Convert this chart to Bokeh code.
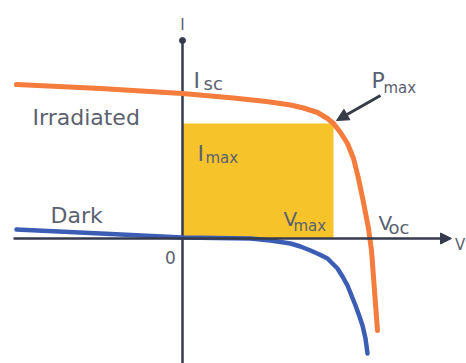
from bokeh.plotting import figure
from bokeh.models import Range1d, Arrow, NormalHead, ColumnDataSource
from bokeh.core.properties import value
from bokeh.embed import file_html
from bokeh.resources import INLINE

# Solar cell I-V characteristics (schematic units)
irr_v = [-1.66, -0.82, 0.00, 0.51, 0.84, 1.08, 1.21, 1.35, 1.45, 1.51, 1.58,
         1.65, 1.71, 1.76, 1.81, 1.86, 1.89, 1.92, 1.95]
irr_i = [1.54, 1.50, 1.45, 1.405, 1.37, 1.335, 1.305, 1.26, 1.20, 1.15, 1.06,
         0.95, 0.80, 0.60, 0.36, 0.10, -0.12, -0.52, -0.92]

dark_v = [-1.66, -0.82, 0.00, 0.68, 0.88, 1.08, 1.18, 1.28, 1.37, 1.45, 1.50,
          1.55, 1.60, 1.65, 1.69, 1.73, 1.77, 1.80, 1.83, 1.85]
dark_i = [0.09, 0.05, 0.01, 0.00, -0.02, -0.05, -0.08, -0.12, -0.16, -0.20,
          -0.25, -0.30, -0.38, -0.47, -0.57, -0.67, -0.78, -0.87, -1.00, -1.15]

# Maximum power point and open-circuit voltage
v_max = 1.51
i_max = 1.15
v_oc = 1.86

TEXT = "#5b6170"
AXIS = "#353a4c"
FONT = "DejaVu Sans"

p = figure(width=466, height=363, output_backend="svg", toolbar_location=None,
           x_range=Range1d(-1.82, 2.84), y_range=Range1d(-1.25, 2.38),
           min_border=0)
p.axis.visible = False
p.grid.visible = False
p.outline_line_color = None
p.background_fill_color = "white"
p.border_fill_color = "white"

# Power rectangle V_max x I_max
p.quad(left=[0], right=[v_max], bottom=[0], top=[i_max],
       fill_color="#f6c42a", line_color=None)

# Axes
p.segment(x0=[0], y0=[1.98], x1=[0], y1=[-1.30], line_color=AXIS, line_width=2.5)
p.scatter(x=[0], y=[1.98], size=6, color=AXIS)
p.add_layout(Arrow(end=NormalHead(size=11, fill_color=AXIS, line_color=AXIS),
                   x_start=-1.69, y_start=0.0, x_end=2.69, y_end=0.0,
                   line_color=AXIS, line_width=2.5))

# Curves
p.line(dark_v, dark_i, line_color="#3b5db3", line_width=4.5, line_cap="round",
       line_join="round")
p.line(irr_v, irr_i, line_color="#f47c3c", line_width=5, line_cap="round",
       line_join="round")

# Pointer to the maximum power point
p.add_layout(Arrow(end=NormalHead(size=12, fill_color="#363b48", line_color="#363b48"),
                   x_start=1.98, y_start=1.43, x_end=v_max + 0.03, y_end=i_max + 0.03,
                   line_color="#363b48", line_width=3))

def label(x, y, text, size, align="left"):
    src = ColumnDataSource(dict(x=[x], y=[y], t=[text]))
    p.text(x="x", y="y", text="t", source=src, text_font=value(FONT),
           text_font_size=f"{size}px", text_color=TEXT, text_align=align,
           text_baseline="alphabetic")

label(0.0, 2.14, "I", 15, "center")
label(-1.50, 1.21, "Irradiated", 22)
label(-1.32, 0.23, "Dark", 22)
label(0.11, 1.58, "I", 22)
label(0.21, 1.55, "sc", 18)
label(0.15, 0.85, "I", 22)
label(0.23, 0.81, "max", 15)
label(1.89, 1.58, "P", 22)
label(2.01, 1.51, "max", 15)
label(1.01, 0.20, "V", 20)
label(1.11, 0.13, "max", 15)
label(1.96, 0.16, "V", 20)
label(2.06, 0.11, "oc", 18)
label(-0.12, -0.19, "0", 17, "center")
label(2.725, -0.06, "V", 15)

open("out.html", "w").write(file_html(p, INLINE))
